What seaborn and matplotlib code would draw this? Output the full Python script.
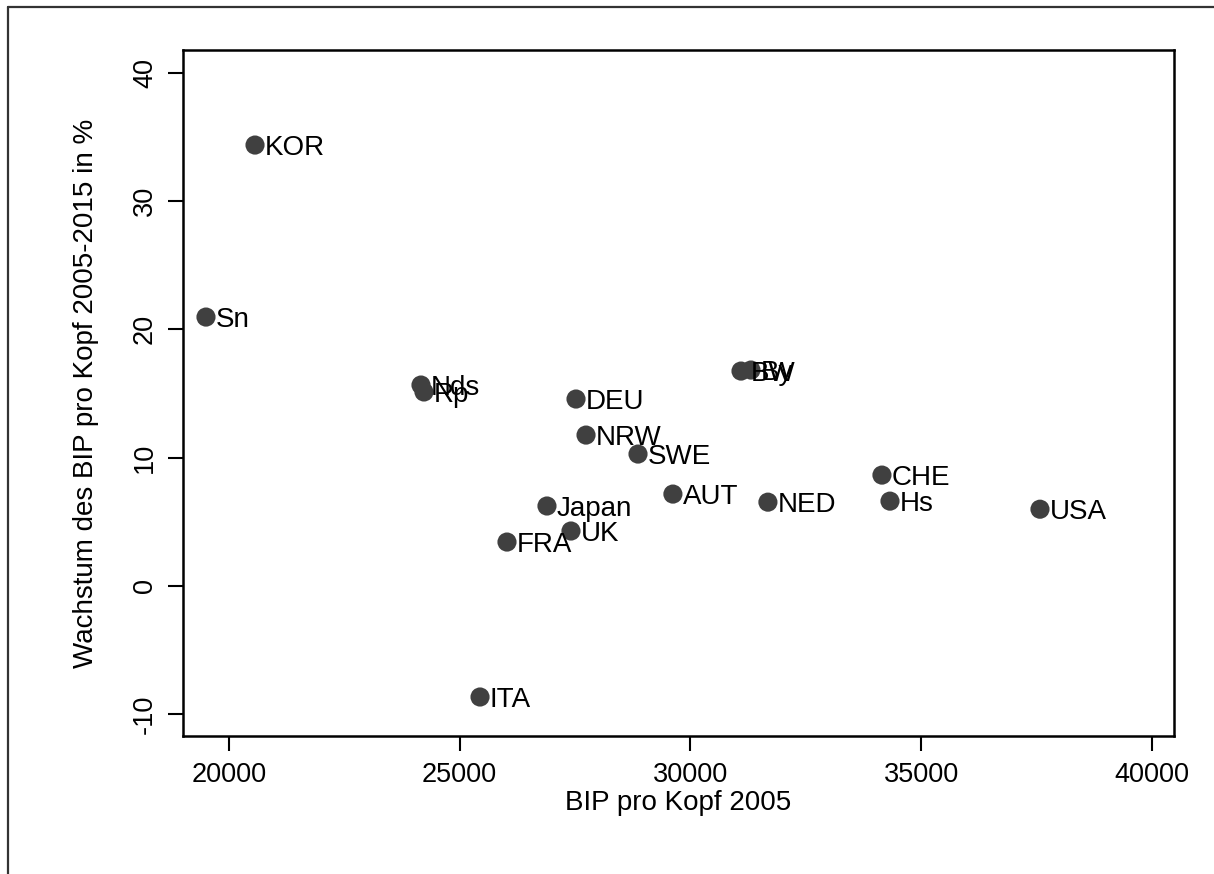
import matplotlib
matplotlib.use("Agg")
import matplotlib.pyplot as plt
from matplotlib.lines import Line2D
import seaborn as sns
import pandas as pd

# BIP pro Kopf 2005 and its growth 2005-2015 by country / German state
regions = ["KOR", "Sn", "Nds", "Rp", "DEU", "NRW", "SWE", "BW", "By", "CHE",
           "Hs", "USA", "NED", "AUT", "Japan", "UK", "FRA", "ITA"]
gdp_2005 = [20570, 19508, 24165, 24230, 27523, 27740, 28866, 31097, 31313, 34150,
            34324, 37573, 31680, 29622, 26894, 27414, 26028, 25444]
growth_pct = [34.36, 20.95, 15.65, 15.11, 14.56, 11.75, 10.27, 16.74, 16.82, 8.63,
              6.60, 5.97, 6.52, 7.15, 6.22, 4.27, 3.41, -8.67]
x_ticks = [20000, 25000, 30000, 35000, 40000]
y_ticks = [-10, 0, 10, 20, 30, 40]

df = pd.DataFrame({"region": regions, "bip": gdp_2005, "wachstum": growth_pct})

sns.set_theme(style="white")
plt.rcParams["font.family"] = ["Liberation Sans", "DejaVu Sans"]

fig = plt.figure(figsize=(12.14, 8.74), dpi=100)
ax = fig.add_axes([183 / 1214, 1 - 736 / 874, (1174 - 183) / 1214, (736 - 50) / 874])

sns.scatterplot(data=df, x="bip", y="wachstum", ax=ax, s=190, color="#404040",
                edgecolor="none", linewidth=0, zorder=3)

for name, xv, yv in zip(df["region"], df["bip"], df["wachstum"]):
    ax.annotate(name, (xv, yv), xytext=(7, 0), textcoords="offset points",
                ha="left", va="center_baseline", fontsize=20, color="#000000",
                zorder=4)

ax.set_xlim(19010, 40476)
ax.set_ylim(-11.71, 41.77)
ax.set_xticks(x_ticks)
ax.set_yticks(y_ticks)
ax.set_xticklabels([str(v) for v in x_ticks])
ax.set_yticklabels([str(v) for v in y_ticks], rotation=90, va="center")

ax.tick_params(axis="both", which="major", direction="out", length=11, width=1.5,
               color="#000000", labelsize=19.5, labelcolor="#000000",
               bottom=True, left=True)
ax.tick_params(axis="y", pad=7)
ax.tick_params(axis="x", pad=8)

for sp in ax.spines.values():
    sp.set_visible(True)
    sp.set_color("#000000")
    sp.set_linewidth(1.8)

ax.set_xlabel("BIP pro Kopf 2005", fontsize=20, color="#000000", labelpad=1.5)
ax.set_ylabel("Wachstum des BIP pro Kopf 2005-2015 in %", fontsize=20,
              color="#000000", labelpad=24)
ax.grid(False)

# outer frame around the graph region
fig.add_artist(Line2D([8.3 / 1214, 8.3 / 1214], [0, 1 - 6.7 / 874],
                      transform=fig.transFigure, color="#333333", linewidth=1.6))
fig.add_artist(Line2D([8.3 / 1214, 1], [1 - 6.7 / 874, 1 - 6.7 / 874],
                      transform=fig.transFigure, color="#333333", linewidth=1.6))

fig.savefig("out.png", dpi=100)
